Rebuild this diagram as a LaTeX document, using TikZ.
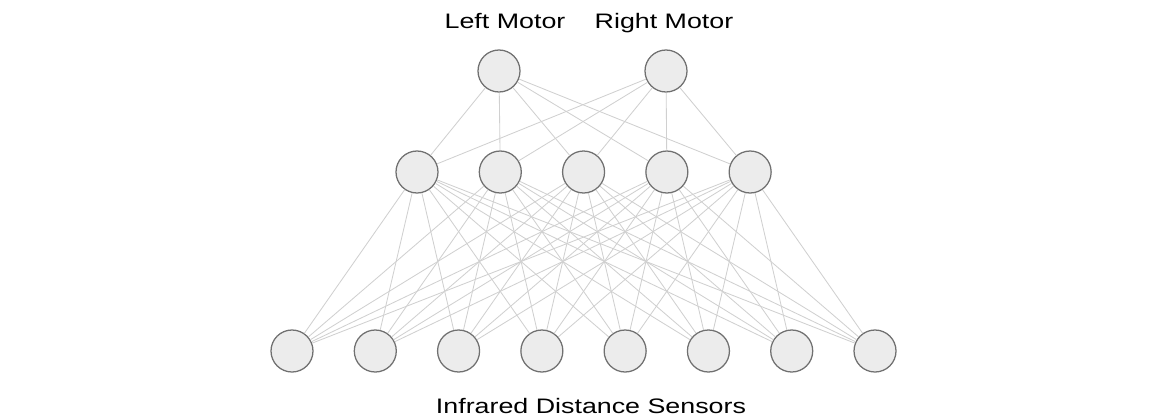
\documentclass[tikz,border=0pt]{standalone}
\usepackage{fontspec}
\setmainfont{Liberation Sans}
\usepackage{tikz}
\usetikzlibrary{positioning, calc}

\definecolor{ringgray}{RGB}{112,112,112}
\definecolor{cellgray}{RGB}{236,236,236}
\definecolor{wiregray}{RGB}{208,208,208}

% labels in the figure are set wide
\newcommand{\widelabel}[1]{\scalebox{1.28}[1]{#1}}

\tikzset{
    neuron/.style={circle, draw=ringgray, fill=cellgray, line width=0.9pt, minimum size=1.05cm, inner sep=0pt},
    synapse/.style={draw=wiregray, line width=0.6pt},
    caption/.style={font=\fontsize{14.9}{17}\selectfont, inner sep=0pt, anchor=base}
}

\begin{document}
\begin{tikzpicture}[x=0.025cm, y=-0.025cm]
    \useasboundingbox (0,0) rectangle (1150,416);

    % Nodes
    \node (i1) at (292,351) [neuron] {};
    \foreach \n [evaluate=\n as \p using int(\n-1)] in {2,...,8}
        \node (i\n) [neuron, right=1.0cm of i\p] {};

    \node (h1) at (417,172) [neuron] {};
    \foreach \n [evaluate=\n as \p using int(\n-1)] in {2,...,5}
        \node (h\n) [neuron, right=1.0cm of h\p] {};

    \node (o1) at (499,71) [neuron] {};
    \node (o2) at (666,71) [neuron] {};

    % Labels
    \node (leftlbl) at (505,28.5) [caption] {\widelabel{Left Motor}};
    \node (rightlbl) at (664,28.5) [caption] {\widelabel{Right Motor}};
    \node (sensorlbl) at (591,413) [caption] {\widelabel{Infrared Distance Sensors}};

    % Connections
    \foreach \o in {1,2}
        \foreach \h in {1,...,5}
            \draw[synapse] (o\o) -- (h\h);
    \foreach \h in {1,...,5}
        \foreach \i in {1,...,8}
            \draw[synapse] (h\h) -- (i\i);

\end{tikzpicture}
\end{document}
